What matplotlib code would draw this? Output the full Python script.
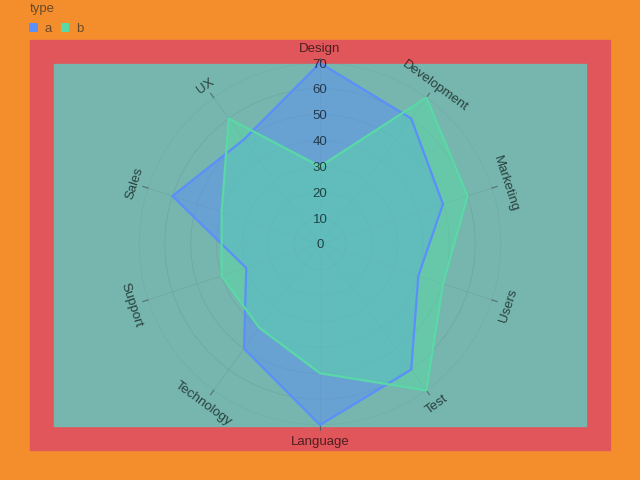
import numpy as np
import matplotlib
matplotlib.use("Agg")
import matplotlib.pyplot as plt
from matplotlib.patches import Rectangle, Patch

plt.rcParams["font.family"] = ["Liberation Sans", "DejaVu Sans"]

# data
categories = ["Design", "Development", "Marketing", "Users", "Test",
              "Language", "Technology", "Support", "Sales", "UX"]
series_a = [70, 60, 50, 40, 60, 70, 50, 30, 60, 50]
series_b = [30, 70, 60, 50, 70, 50, 40, 40, 40, 60]
ticks = [0, 10, 20, 30, 40, 50, 60, 70]

W, H = 640, 480
ORANGE = "#f48e2d"
RED = "#e1565b"
TEAL = "#76b6ae"
BLUE = "#5b8ff9"
GREEN = "#5ad8a6"

fig = plt.figure(figsize=(W / 100, H / 100), dpi=100)
fig.patch.set_facecolor(ORANGE)

# background boxes (pixel coords from top-left)
def box(x0, y0, x1, y1, color):
    fig.patches.append(Rectangle((x0 / W, 1 - y1 / H), (x1 - x0) / W, (y1 - y0) / H,
                                 transform=fig.transFigure, color=color, zorder=-10))

box(30, 40, 610, 450, RED)
box(54, 64, 586, 426, TEAL)

# polar axes centred at (320, 244) px with radius 181 px
cx, cy, R = 320, 244, 181
ax = fig.add_axes([(cx - R) / W, (H - cy - R) / H, 2 * R / W, 2 * R / H], projection="polar")
ax.set_zorder(5)
ax.set_facecolor("none")
ax.set_theta_zero_location("N")
ax.set_theta_direction(-1)
ax.set_ylim(0, 70)
ax.spines["polar"].set_visible(False)
ax.set_xticks([])
ax.set_yticks([])
ax.grid(False)

n = len(categories)
theta = np.arange(n) * 2 * np.pi / n
full = np.linspace(0, 2 * np.pi, 200)

# grid circles and spokes
for t in ticks[1:]:
    ax.plot(full, [t] * len(full), color="#5f8a86", lw=0.6, alpha=0.3, zorder=1)
for th in theta:
    ax.plot([th, th], [0, 70], color="#5f8a86", lw=0.6, alpha=0.3, zorder=1)
    ax.plot([th, th], [70, 72], color="#4a5c5a", lw=0.8, alpha=0.8, zorder=1, clip_on=False)

# series
for vals, col in [(series_a, BLUE), (series_b, GREEN)]:
    th = np.append(theta, theta[0])
    v = np.append(vals, vals[0])
    ax.fill(th, v, color=col, alpha=0.5, lw=0, zorder=2)
    ax.plot(th, v, color=col, lw=1.6, zorder=3, clip_on=False)

# radial tick labels
for t in ticks:
    ax.text(0, t, str(t), ha="center", va="center_baseline", fontsize=9.5,
            color="black", alpha=0.65, zorder=4)

# category labels
for th, name in zip(theta, categories):
    deg = np.degrees(th)
    if deg <= 90 or deg >= 270:
        rot = -deg
    else:
        rot = 180 - deg
    ax.text(th, 76.0, name, ha="center", va="center_baseline", rotation=rot,
            rotation_mode="anchor", fontsize=9.5, color="black", alpha=0.65,
            clip_on=False, zorder=4)

# legend
TXT = "#6b4a2a"
fig.text(30 / W, 1 - 9 / H, "type", ha="left", va="center", fontsize=9.5, color=TXT)
handles = [Patch(facecolor=BLUE, edgecolor="none"), Patch(facecolor=GREEN, edgecolor="none")]
leg = fig.legend(handles, ["a", "b"], loc="center left",
                 bbox_to_anchor=(29 / W, 1 - 29 / H), ncol=2, frameon=False,
                 handlelength=0.65, handleheight=0.65,
                 handletextpad=0.5, columnspacing=0.7, fontsize=9.5,
                 borderpad=0, borderaxespad=0)
for txt in leg.get_texts():
    txt.set_color(TXT)

fig.savefig("out.png", dpi=100, facecolor=fig.get_facecolor())
